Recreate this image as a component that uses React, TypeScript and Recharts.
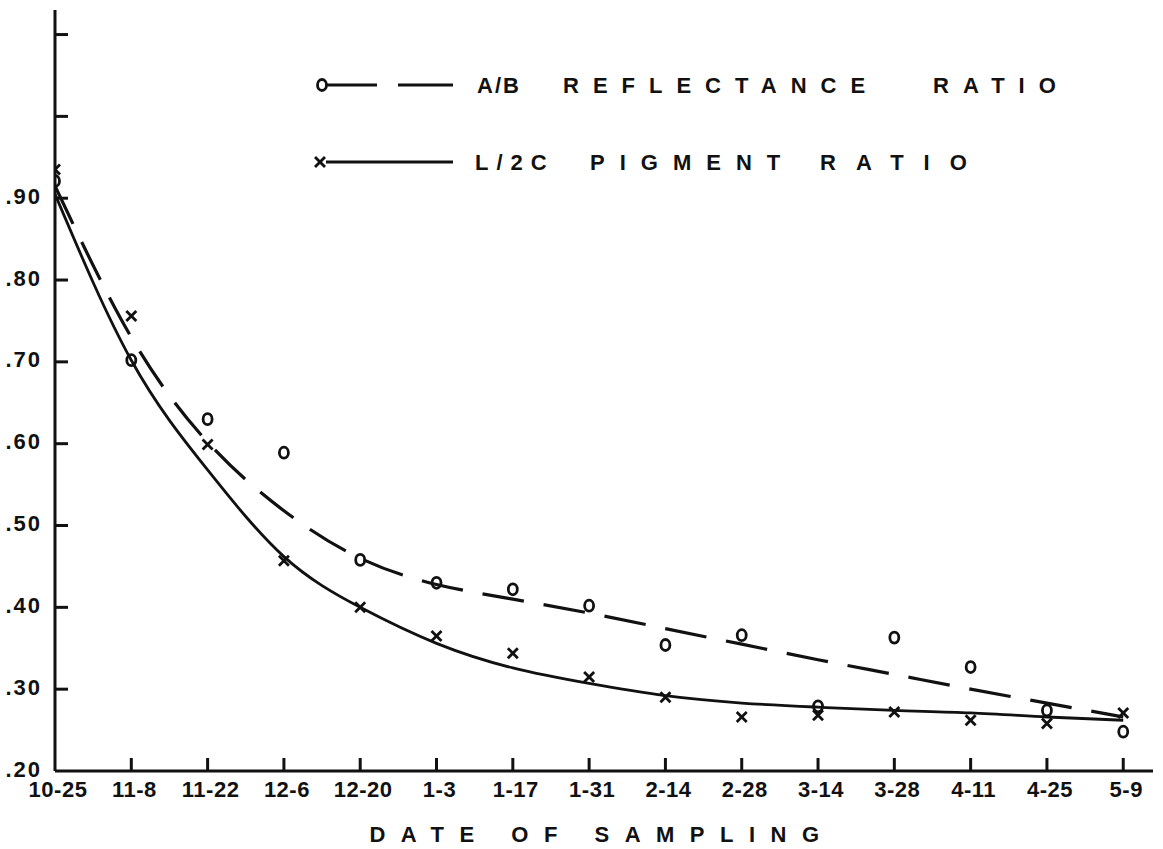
import { ComposedChart, Line, Scatter, XAxis, YAxis, Legend, Label } from "recharts";

// sampling dates, two weeks apart
const dates = ["10-25", "11-8", "11-22", "12-6", "12-20", "1-3", "1-17", "1-31", "2-14", "2-28", "3-14", "3-28", "4-11", "4-25", "5-9"];

// measured points
const reflectancePts = [0.921, 0.702, 0.63, 0.589, 0.458, 0.43, 0.422, 0.402, 0.354, 0.366, 0.279, 0.363, 0.327, 0.274, 0.248];
const pigmentPts = [0.935, 0.756, 0.599, 0.457, 0.4, 0.365, 0.344, 0.315, 0.29, 0.266, 0.268, 0.272, 0.262, 0.258, 0.271];

// hand-drawn fitted curves, read at each date
const reflectanceFit = [0.915, 0.73, 0.602, 0.518, 0.46, 0.428, 0.41, 0.393, 0.374, 0.355, 0.336, 0.318, 0.3, 0.283, 0.266];
const pigmentFit = [0.905, 0.702, 0.568, 0.462, 0.4, 0.356, 0.326, 0.307, 0.292, 0.283, 0.278, 0.274, 0.271, 0.266, 0.262];

const yTicks = [0.2, 0.3, 0.4, 0.5, 0.6, 0.7, 0.8, 0.9, 1.0, 1.1];
const yTickLabels = [".20", ".30", ".40", ".50", ".60", ".70", ".80", ".90", "", ""];
const xTicks = dates.map((_, i) => i);

const data = dates.map((d, i) => ({
  i,
  date: d,
  refPt: reflectancePts[i],
  pigPt: pigmentPts[i],
  refFit: reflectanceFit[i],
  pigFit: pigmentFit[i],
}));

const INK = "#111";
const FONT = "'Liberation Sans', Arial, sans-serif";

function Ring(p: any) {
  return <ellipse cx={p.cx} cy={p.cy} rx={4.5} ry={5.5} fill="none" stroke={INK} strokeWidth={2.8} />;
}

function Cross(p: any) {
  const s = 5;
  return (
    <g stroke={INK} strokeWidth={2.8}>
      <line x1={p.cx - s} y1={p.cy - s} x2={p.cx + s} y2={p.cy + s} />
      <line x1={p.cx - s} y1={p.cy + s} x2={p.cx + s} y2={p.cy - s} />
    </g>
  );
}

// ticks point inward, like the hand-drawn original
function YTick(p: any) {
  const idx = yTicks.findIndex((t) => Math.abs(t - p.payload.value) < 1e-6);
  const label = yTickLabels[idx] ?? "";
  return (
    <g>
      {idx > 0 && <line x1={p.x} x2={p.x + 13} y1={p.y} y2={p.y} stroke={INK} strokeWidth={3} />}
      {label && (
        <text x={p.x - 13} y={p.y - 2} textAnchor="end" dominantBaseline="central" fontFamily={FONT} fontWeight={700} fontSize={22} letterSpacing={2} fill={INK}>
          {label}
        </text>
      )}
    </g>
  );
}

function XTick(p: any) {
  const v = p.payload.value;
  return (
    <g>
      {v > 0 && <line x1={p.x} x2={p.x} y1={p.y} y2={p.y - 13} stroke={INK} strokeWidth={3} />}
      <text x={p.x + 3} y={p.y + 18} textAnchor="middle" dominantBaseline="central" fontFamily={FONT} fontWeight={700} fontSize={22} letterSpacing={0.5} fill={INK}>
        {dates[v]}
      </text>
    </g>
  );
}

function LegendBox() {
  const txt = { fontFamily: FONT, fontWeight: 700, fontSize: 22, fill: INK, letterSpacing: 14 } as const;
  return (
    <svg width={800} height={120}>
      <g stroke={INK} strokeWidth={2.8}>
        <ellipse cx={22} cy={25} rx={4.5} ry={5.5} fill="none" />
        <line x1={27} x2={77} y1={25} y2={25} />
        <line x1={98} x2={153} y1={25} y2={25} />
        <line x1={15} y1={97} x2={25} y2={107} />
        <line x1={15} y1={107} x2={25} y2={97} />
        <line x1={26} x2={153} y1={102} y2={102} />
      </g>
      <text x={177} y={25} dominantBaseline="central" {...txt} letterSpacing={2}>A/B</text>
      <text x={263} y={25} dominantBaseline="central" {...txt}>REFLECTANCE</text>
      <text x={633} y={25} dominantBaseline="central" {...txt}>RATIO</text>
      <text x={175} y={102} dominantBaseline="central" {...txt} letterSpacing={8}>L/2C</text>
      <text x={290} y={102} dominantBaseline="central" {...txt} letterSpacing={15}>PIGMENT</text>
      <text x={520} y={102} dominantBaseline="central" {...txt} letterSpacing={20}>RATIO</text>
    </svg>
  );
}

export default function App() {
  return (
    <div style={{ position: "absolute", left: 0, top: 0, background: "#fff" }}>
      <ComposedChart width={1163} height={849} data={data} margin={{ top: 10, right: 10, bottom: 0, left: 0 }}>
        <XAxis
          dataKey="i"
          type="number"
          domain={[0, 14.39]}
          ticks={xTicks}
          interval={0}
          allowDataOverflow
          height={78}
          tickSize={0}
          tickMargin={0}
          tickLine={false}
          axisLine={{ stroke: INK, strokeWidth: 3 }}
          tick={(p: any) => <XTick {...p} />}
        >
          <Label
            content={(props: any) => {
              const vb = props.viewBox;
              return (
                <text x={vb.x + vb.width / 2 - 2} y={vb.y + 63} textAnchor="middle" dominantBaseline="central" fontFamily={FONT} fontWeight={700} fontSize={22} letterSpacing={15.5} fill={INK}>
                  DATE OF SAMPLING
                </text>
              );
            }}
          />
        </XAxis>
        <YAxis
          type="number"
          domain={[0.2, 1.13]}
          ticks={yTicks}
          interval={0}
          allowDataOverflow
          width={55}
          tickSize={0}
          tickMargin={0}
          tickLine={false}
          axisLine={{ stroke: INK, strokeWidth: 3 }}
          tick={(p: any) => <YTick {...p} />}
        />
        <Legend
          verticalAlign="middle"
          align="center"
          layout="horizontal"
          wrapperStyle={{ left: 300, top: 60, width: 800, height: 120 }}
          content={() => <LegendBox />}
        />
        <Line dataKey="refFit" type="natural" stroke={INK} strokeWidth={3.2} strokeDasharray="42 20" dot={false} activeDot={false} isAnimationActive={false} />
        <Line dataKey="pigFit" type="natural" stroke={INK} strokeWidth={2.8} dot={false} activeDot={false} isAnimationActive={false} />
        <Scatter dataKey="refPt" shape={Ring} isAnimationActive={false} />
        <Scatter dataKey="pigPt" shape={Cross} isAnimationActive={false} />
      </ComposedChart>
    </div>
  );
}
